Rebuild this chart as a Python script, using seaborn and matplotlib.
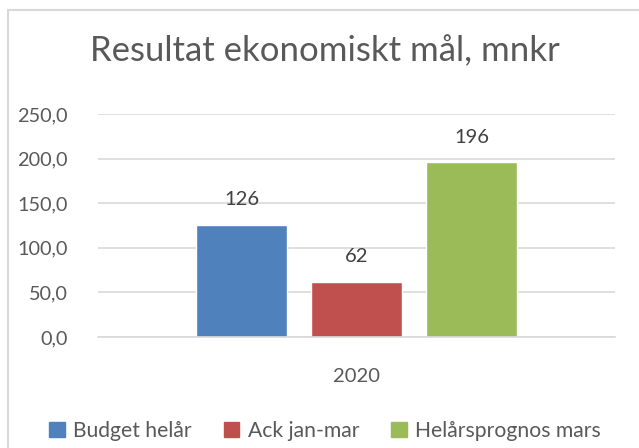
import pandas as pd
import matplotlib.pyplot as plt
import matplotlib.patches as mpatches
from matplotlib.ticker import FuncFormatter
import seaborn as sns

# Data från diagrammet
serier = ["Budget helår", "Ack jan-mar", "Helårsprognos mars"]
varden = [126, 62, 196]
ar = ["2020", "2020", "2020"]
farger = ["#4F81BD", "#C0504D", "#9BBB59"]

df = pd.DataFrame({"År": ar, "Serie": serier, "Värde": varden})

sns.set_style("white")
plt.rcParams['font.family'] = ['Lato', 'DejaVu Sans']
textfarg = "#595959"
gridfarg = "#D9D9D9"

W, H = 639, 448
fig = plt.figure(figsize=(W / 100, H / 100), dpi=100)
ax = fig.add_axes([98 / W, (H - 337) / H, (615 - 98) / W, (337 - 114) / H])

sns.barplot(data=df, x="År", y="Värde", hue="Serie", palette=farger,
            width=0.667, gap=0.21, ax=ax, legend=False, saturation=1)

ax.set_ylim(0, 250)
ax.set_yticks([0, 50, 100, 150, 200, 250])
ax.yaxis.set_major_formatter(FuncFormatter(lambda v, p: f"{v:.1f}".replace(".", ",")))
ax.grid(axis="y", color=gridfarg, linewidth=1.2)
ax.set_axisbelow(True)
for s in ["top", "right", "left"]:
    ax.spines[s].set_visible(False)
ax.spines["bottom"].set_color(gridfarg)
ax.spines["bottom"].set_linewidth(1.2)
ax.tick_params(axis="y", length=0, pad=22, labelsize=14.3, labelcolor=textfarg)
ax.tick_params(axis="x", length=0, pad=22, labelsize=14.5, labelcolor=textfarg)
ax.set_xlabel("")
ax.set_ylabel("")

# Dataetiketter
for cont in ax.containers:
    ax.bar_label(cont, fmt="%.0f", padding=12, fontsize=14.5, color="#404040")

# Titel
fig.text(325 / W, 1 - 51 / H, "Resultat ekonomiskt mål, mnkr", ha="center", va="center",
         fontsize=25, color=textfarg)

# Förklaring
handtag = [mpatches.Patch(color=c, label=s) for c, s in zip(farger, serier)]
fig.legend(handles=handtag, loc="center", bbox_to_anchor=(325 / W, (H - 431) / H), ncol=3,
           frameon=False, fontsize=15.2, labelcolor=textfarg, handlelength=0.75, handleheight=0.75,
           handletextpad=0.4, columnspacing=1.5)

# Ram
fig.patches.append(mpatches.Rectangle((7.5 / W, -0.1), 1.2, 1.1 - 10.5 / H, transform=fig.transFigure,
                                      fill=False, edgecolor=gridfarg, linewidth=1.5))

fig.savefig("out.png", dpi=100)
